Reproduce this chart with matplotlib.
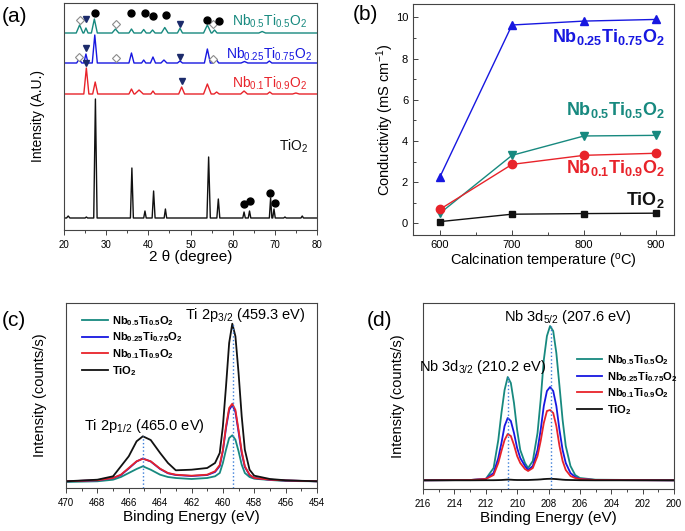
import matplotlib
matplotlib.use("Agg")
import matplotlib.pyplot as plt
from matplotlib.ticker import MultipleLocator

plt.rcParams["font.family"] = ["Liberation Sans", "DejaVu Sans"]
plt.rcParams["mathtext.fontset"] = "custom"
plt.rcParams["mathtext.rm"] = "Liberation Sans"
plt.rcParams["mathtext.it"] = "Liberation Sans:italic"
plt.rcParams["mathtext.bf"] = "Liberation Sans:bold"

TEAL = "#17897f"
BLUE = "#1717e0"
RED = "#e8232a"
BLACK = "#111111"
NAVY = "#1c2b6b"
DOT = "#3b7dd8"

# ---------------- (a) XRD: baseline + peaks (2theta, height, half width) ----------------
xrd_names = ["Nb$_{0.5}$Ti$_{0.5}$O$_2$", "Nb$_{0.25}$Ti$_{0.75}$O$_2$",
             "Nb$_{0.1}$Ti$_{0.9}$O$_2$", "TiO$_2$"]
xrd_base = [197, 167, 136, 12]
xrd_peaks = [
    [(23.7, 8, 0.8), (25.2, 5, 0.5), (27.2, 14, 0.7), (32.2, 4, 0.8), (36.0, 4, 0.6),
     (38.9, 3.5, 0.6), (41.0, 3, 0.6), (43.9, 5.5, 0.8), (47.5, 4.7, 0.6), (54.0, 8, 0.9),
     (55.7, 3, 0.6), (67.0, 1.5, 0.8)],
    [(23.6, 4, 0.6), (25.2, 9, 0.5), (27.3, 28, 0.6), (36.0, 10, 0.6), (38.9, 3, 0.5),
     (41.1, 6, 0.6), (43.7, 3, 0.7), (47.5, 2, 0.6), (54.0, 14, 0.7), (56.0, 4, 0.7),
     (62.8, 1.5, 0.8), (68.7, 2, 0.6)],
    [(25.3, 26, 0.6), (27.4, 12, 0.6), (36.0, 5, 0.6), (37.8, 4, 1.0), (41.1, 3, 0.5),
     (47.9, 7, 0.7), (54.0, 10, 0.9), (56.2, 2, 0.6), (62.7, 3, 0.8), (68.8, 2, 0.6),
     (75.0, 1, 0.8)],
    [(21.0, 2, 0.4), (25.3, 1, 0.3), (27.45, 119, 0.4), (36.1, 50, 0.35), (39.2, 7, 0.3),
     (41.25, 27, 0.35), (44.05, 9, 0.3), (54.3, 61, 0.4), (56.6, 19, 0.35), (62.7, 6, 0.3),
     (64.0, 7, 0.3), (69.0, 20, 0.3), (69.8, 9, 0.3), (72.4, 1, 0.3), (76.5, 2, 0.3)],
]
xrd_colors = [TEAL, BLUE, RED, BLACK]
xrd_label_xy = [(77.6, 204), (78.8, 171.7), (77.6, 142.3), (71.0, 79.3)]

diamond_x = [23.7, 32.3, 55.3, 23.6, 32.3, 55.3]
diamond_y = [210.3, 206, 205.7, 172.7, 172.3, 171.3]
tri_x = [25.2, 47.5, 25.2, 47.5, 25.3, 47.9]
tri_y = [211, 206, 181.7, 172.7, 167, 149]
dot_x = [27.4, 36.0, 39.3, 41.2, 44.2, 54.0, 56.8, 62.6, 64.0, 68.8, 70.0]
dot_y = [217.3, 216.7, 216.7, 214.3, 215, 210.3, 209.3, 25.7, 29, 36.7, 27.3]

# ---------------- (b) conductivity ----------------
temps = [600, 700, 800, 900]
cond_tio2 = [0.08, 0.44, 0.47, 0.49]
cond_nb01 = [0.68, 2.86, 3.30, 3.40]
cond_nb05 = [0.49, 3.30, 4.24, 4.27]
cond_nb025 = [2.26, 9.63, 9.82, 9.90]

# ---------------- (c) Ti 2p XPS ----------------
ti_be = [470, 468, 467, 466.5, 466, 465.5, 465.1, 464.6, 464, 463.5, 463, 462, 461, 460.5,
         460.2, 460, 459.8, 459.6, 459.4, 459.2, 459.0, 458.8, 458.6, 458.3, 458, 457, 456, 454]
ti_tio2 = [6.7, 8.3, 11.7, 21.7, 31.7, 46.7, 51.7, 48, 35, 25, 17.7, 18.3, 20, 25,
           35, 61.7, 101.7, 145, 164.3, 151.7, 115, 71.7, 38.3, 18.3, 12.3, 9, 7.7, 6.7]
ti_nb01 = [6.7, 7.7, 10, 13.3, 20, 26.7, 29.3, 26.7, 19.3, 15, 13.3, 12.3, 13.3, 16.7,
           23, 38, 61.7, 80, 84.3, 78, 58, 36.7, 21.7, 13.3, 10, 8.3, 7.5, 6.7]
ti_nb025 = [6.7, 7.7, 10, 13.0, 19.5, 26.5, 29.5, 26.5, 19, 14.7, 13, 12, 13, 16,
            22, 37, 60, 78, 83, 76, 56, 35, 21, 13, 10, 8.3, 7.5, 6.7]
ti_nb05 = [6, 6.7, 8.3, 11, 15, 19, 21.7, 18.3, 13.3, 11, 10, 9, 10, 11.7,
           15, 25, 38.3, 50, 52.7, 48.3, 36.7, 23.3, 15, 11, 9.3, 8, 7, 6.7]

# ---------------- (d) Nb 3d XPS ----------------
nb_be = [216, 213, 212, 211.5, 211.2, 211.0, 210.8, 210.6, 210.4, 210.2, 210.0, 209.8, 209.5,
         209.3, 209.0, 208.7, 208.5, 208.3, 208.1, 207.9, 207.7, 207.5, 207.3, 207.1, 206.9,
         206.6, 206.3, 206.0, 205, 200]
nb_nb05 = [8.7, 9, 10, 21, 49, 76, 99, 112, 106, 86, 59, 39, 26, 21, 28, 56, 89, 129, 153,
           163, 158, 136, 103, 69, 43, 23, 14, 11, 9.3, 8.7]
nb_nb025 = [8.7, 9, 10, 16, 31, 46, 63, 71, 68, 56, 41, 31, 23, 19, 23, 39, 59, 83, 98,
            102, 98, 83, 59, 39, 26, 16, 12, 10, 9, 8.7]
nb_nb01 = [8.7, 9, 10, 14, 26, 38, 49, 55, 53, 44, 33, 26, 20, 18, 21, 33, 48, 66, 78,
           79, 76, 63, 43, 28, 19, 13, 11, 10, 9, 8.7]
nb_tio2 = [8.7, 8.7, 8.8, 8.8, 8.9, 9, 9.2, 9.4, 9.3, 9.1, 9, 9, 9, 9, 9.2, 9.4, 9.6, 9.9,
           10.1, 10.2, 10.1, 9.9, 9.6, 9.3, 9.1, 9, 8.9, 8.8, 8.7, 8.7]

legend_names = [r"$\mathbf{Nb_{0.5}Ti_{0.5}O_2}$", r"$\mathbf{Nb_{0.25}Ti_{0.75}O_2}$",
                r"$\mathbf{Nb_{0.1}Ti_{0.9}O_2}$", r"$\mathbf{TiO_2}$"]

W, H = 685, 531


def px_axes(fig, left, top, right, bottom):
    return fig.add_axes([left / W, 1 - bottom / H, (right - left) / W, (bottom - top) / H])


def style(ax, direction="out", size=7):
    for sp in ax.spines.values():
        sp.set_color("#444444")
        sp.set_linewidth(0.8)
    ax.tick_params(which="both", direction=direction, labelsize=size, color="#444444", width=0.7)
    ax.tick_params(which="major", length=3.5)
    ax.tick_params(which="minor", length=2)


fig = plt.figure(figsize=(W / 100, H / 100), dpi=100)

# (a)
ax = px_axes(fig, 64, 3, 317, 230)
for base, peaks, color in zip(xrd_base, xrd_peaks, xrd_colors):
    xs, ys = [20], [base]
    for pos, h, hw in peaks:
        xs += [pos - hw, pos, pos + hw]
        ys += [base, base + h, base]
    xs.append(80)
    ys.append(base)
    ax.plot(xs, ys, color=color, lw=1)
for name, color, (lx, ly) in zip(xrd_names, xrd_colors, xrd_label_xy):
    ha = "left" if name == "TiO$_2$" else "right"
    ax.text(lx, ly, name, color=color, fontsize=10, ha=ha, va="baseline")
ax.plot(diamond_x, diamond_y, "D", ms=3.8, mfc="white", mec="#8a8a8a", mew=0.8, ls="none")
ax.plot(tri_x, tri_y, "v", ms=4, color=NAVY, ls="none")
ax.plot(dot_x, dot_y, "o", ms=5, color="black", ls="none")
ax.set_xlim(20, 80)
ax.set_ylim(0, 227)
ax.set_yticks([])
ax.xaxis.set_major_locator(MultipleLocator(10))
ax.xaxis.set_minor_locator(MultipleLocator(5))
style(ax)
ax.set_xlabel("2 θ (degree)", fontsize=11)
ax.xaxis.set_label_coords(0.5, -0.088)
ax.set_ylabel("Intensity (A.U.)", fontsize=10)
ax.yaxis.set_label_coords(-0.075, 0.5)

# (b)
ax = px_axes(fig, 413, 4, 674, 235)
ax.plot(temps, cond_nb025, "-^", color=BLUE, ms=6, lw=1)
ax.plot(temps, cond_nb05, "-v", color=TEAL, ms=6, lw=1)
ax.plot(temps, cond_nb01, "-o", color=RED, ms=6, lw=1)
ax.plot(temps, cond_tio2, "-s", color=BLACK, ms=5, lw=1)
ax.set_xlim(562.5, 925)
ax.set_ylim(-0.57, 10.65)
ax.xaxis.set_major_locator(MultipleLocator(100))
ax.xaxis.set_minor_locator(MultipleLocator(50))
ax.yaxis.set_major_locator(MultipleLocator(2))
ax.yaxis.set_minor_locator(MultipleLocator(1))
style(ax, direction="in", size=8)
ax.text(912, 8.8, r"$\mathbf{Nb_{0.25}Ti_{0.75}O_2}$", color=BLUE, fontsize=13, ha="right", va="baseline")
ax.text(912, 5.26, r"$\mathbf{Nb_{0.5}Ti_{0.5}O_2}$", color=TEAL, fontsize=13, ha="right", va="baseline")
ax.text(912, 2.43, r"$\mathbf{Nb_{0.1}Ti_{0.9}O_2}$", color=RED, fontsize=13, ha="right", va="baseline")
ax.text(912, 0.89, r"$\mathbf{TiO_2}$", color=BLACK, fontsize=13, ha="right", va="baseline")
ax.set_xlabel(r"Calcination temperature ($^{\mathrm{o}}$C)", fontsize=10.5)
ax.xaxis.set_label_coords(0.5, -0.072)
ax.set_ylabel(r"Conductivity (mS cm$^{-1}$)", fontsize=10.5)
ax.yaxis.set_label_coords(-0.065, 0.5)

# (c)
ax = px_axes(fig, 66, 303, 317, 488)
ax.plot(ti_be, ti_nb05, color=TEAL, lw=1.3, label=legend_names[0])
ax.plot(ti_be, ti_nb025, color=BLUE, lw=1.3, label=legend_names[1])
ax.plot(ti_be, ti_nb01, color=RED, lw=1.3, label=legend_names[2])
ax.plot(ti_be, ti_tio2, color=BLACK, lw=1.3, label=legend_names[3])
ax.vlines([465.1, 459.35], 0, [51.7, 164.3], colors=DOT, linestyles=":", lw=1)
ax.set_xlim(470, 454)
ax.set_ylim(0, 185)
ax.set_yticks([])
ax.xaxis.set_major_locator(MultipleLocator(2))
ax.xaxis.set_minor_locator(MultipleLocator(1))
style(ax)
ax.text(458.6, 173, r"Ti 2p$_{3/2}$ (459.3 eV)", fontsize=10.5, ha="center", va="center")
ax.text(465.0, 62, r"Ti 2p$_{1/2}$ (465.0 eV)", fontsize=10.5, ha="center", va="center")
ax.legend(loc="upper left", bbox_to_anchor=(0.064, 0.94), frameon=False, fontsize=8,
          handlelength=2.3, handletextpad=0.4, labelspacing=0.25, borderaxespad=0.0, borderpad=0.0)
ax.set_xlabel("Binding Energy (eV)", fontsize=11)
ax.xaxis.set_label_coords(0.5, -0.12)
ax.set_ylabel("Intensity (counts/s)", fontsize=10.5)
ax.yaxis.set_label_coords(-0.075, 0.5)

# (d)
ax = px_axes(fig, 423, 303, 674, 489)
ax.plot(nb_be, nb_nb05, color=TEAL, lw=1.3, label=legend_names[0])
ax.plot(nb_be, nb_nb025, color=BLUE, lw=1.3, label=legend_names[1])
ax.plot(nb_be, nb_nb01, color=RED, lw=1.3, label=legend_names[2])
ax.plot(nb_be, nb_tio2, color=BLACK, lw=1.3, label=legend_names[3])
ax.vlines([210.6, 207.85], 0, [112, 163], colors=DOT, linestyles=":", lw=1)
ax.set_xlim(216, 200)
ax.set_ylim(0, 186)
ax.set_yticks([])
ax.xaxis.set_major_locator(MultipleLocator(2))
ax.xaxis.set_minor_locator(MultipleLocator(1))
style(ax)
ax.text(206.8, 172, r"Nb 3d$_{5/2}$ (207.6 eV)", fontsize=10.5, ha="center", va="center")
ax.text(212.2, 122, r"Nb 3d$_{3/2}$ (210.2 eV)", fontsize=10.5, ha="center", va="center")
ax.legend(loc="upper left", bbox_to_anchor=(0.613, 0.73), frameon=False, fontsize=8,
          handlelength=2.3, handletextpad=0.4, labelspacing=0.25, borderaxespad=0.0, borderpad=0.0)
ax.set_xlabel("Binding Energy (eV)", fontsize=11)
ax.xaxis.set_label_coords(0.5, -0.12)
ax.set_ylabel("Intensity (counts/s)", fontsize=10.5)
ax.yaxis.set_label_coords(-0.07, 0.5)

for label, x, y in [("(a)", 2, 16), ("(b)", 353, 15), ("(c)", 2, 320), ("(d)", 367, 320)]:
    fig.text(x / W, 1 - y / H, label, fontsize=15, ha="left", va="center")

fig.savefig("out.png", dpi=100)
